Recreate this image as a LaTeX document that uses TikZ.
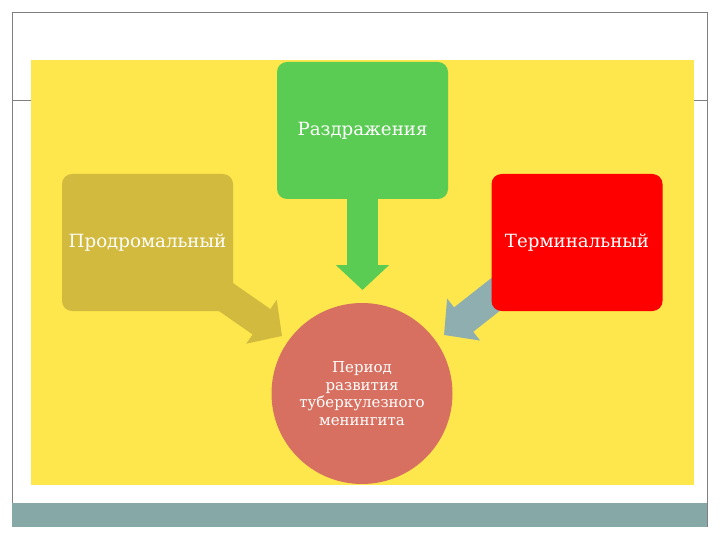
\documentclass[tikz,border=0pt]{standalone}
\usepackage{fontspec}
\setmainfont{DejaVu Serif}
\usetikzlibrary{shapes,arrows.meta,backgrounds}

\begin{document}
\begin{tikzpicture}[x=1pt,y=-1pt,
  stagebox/.style={rectangle,rounded corners=10pt,minimum width=171pt,minimum height=137pt,inner sep=0pt,text=white,font=\fontsize{18.2}{21}\selectfont},
  blockarrow/.style={line width=31pt,-{Triangle[width=52pt,length=25pt]}}]
\useasboundingbox (0,0) rectangle (720,540);
\definecolor{framecolor}{RGB}{128,128,128} % thin frame of the slide
\definecolor{barcolor}{RGB}{134,168,166} % bar at the bottom
\definecolor{yellowfill}{RGB}{253,231,76} % background panel
\definecolor{greenfill}{RGB}{90,204,84} % top box
\definecolor{olivefill}{RGB}{210,186,62} % left box
\definecolor{redfill}{RGB}{255,0,0} % right box
\definecolor{circlefill}{RGB}{215,112,96} % centre circle
\definecolor{tealfill}{RGB}{143,174,175} % arrow from the right box

% the three stages and the centre
\node[stagebox,fill=greenfill] (irrit) at (362.5,130.5) {Раздражения};
\node[stagebox,fill=olivefill] (prodrom) at (147.5,242.5) {Продромальный};
\node[stagebox,fill=redfill] (termin) at (577,242.5) {Терминальный};
\node[circle,fill=circlefill,minimum size=181pt,inner sep=0pt,text=white,align=center,font=\fontsize{15}{17.5}\selectfont] (period) at (362,393.5) {Период\\развития\\туберкулезного\\менингита};

\coordinate (irrittip) at (362.5,290);
\coordinate (prodromtip) at (282,336);
\coordinate (termintip) at (444,335);

\begin{scope}[on background layer]
\draw[framecolor] (12,527) -- (12,12) -- (707,12) -- (707,527); % frame
\draw[framecolor] (12,100) -- (31,100);
\draw[framecolor] (694,100) -- (707,100);
\fill[barcolor] (12,503) rectangle (707,527);
\fill[yellowfill] (31,60) rectangle (694,485);
% block arrows towards the circle
\draw[blockarrow,draw=greenfill,fill=greenfill] (irrit.south) -- (irrittip);
\draw[blockarrow,draw=olivefill,fill=olivefill] (prodrom.center) -- (prodromtip);
\draw[blockarrow,draw=tealfill,fill=tealfill] ([yshift=12pt]termin.center) -- (termintip);
\end{scope}
\end{tikzpicture}
\end{document}
